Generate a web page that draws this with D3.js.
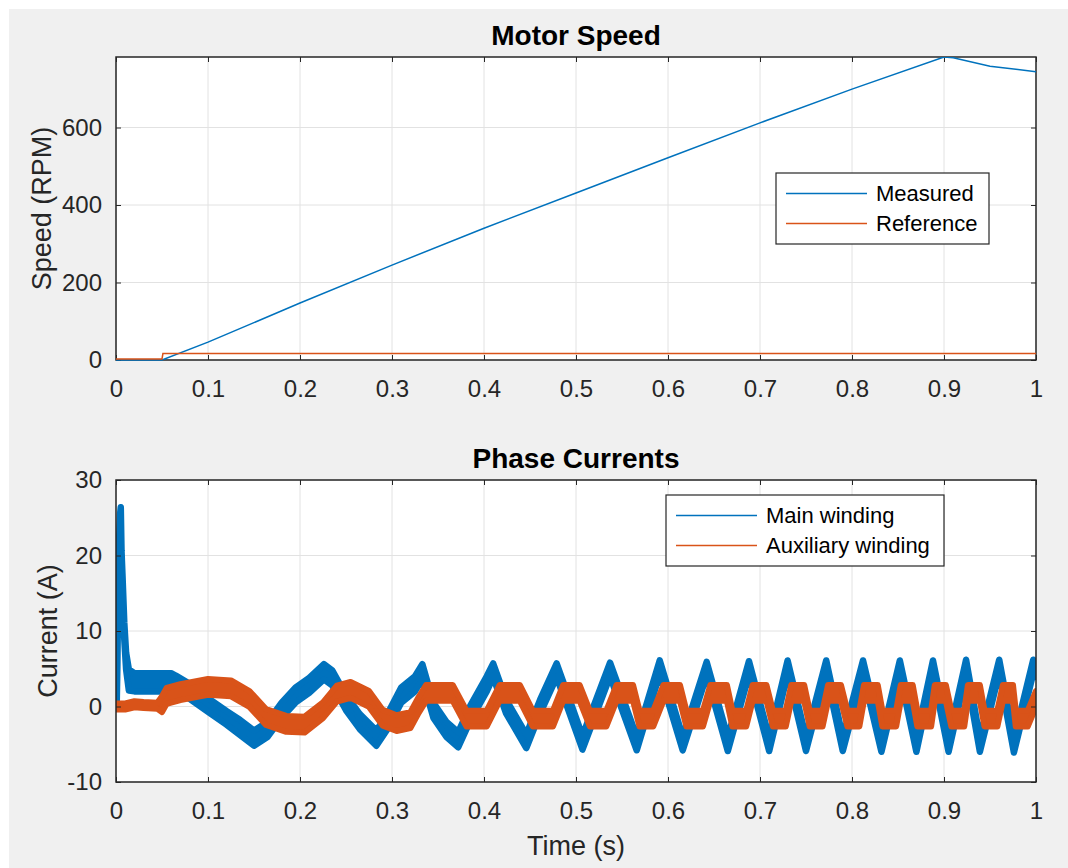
<!DOCTYPE html>
<head>
	<title>Motor Speed and Phase Currents</title>
	<meta charset="utf-8">
<style>

body {
  margin: 0;
  font-family: "Liberation Sans", Arial, Helvetica, sans-serif;
}

.axis path {
  display: none;
}

.axis line {
  stroke: #262626;
}

.axis text {
  fill: #262626;
  font-size: 24px;
}

.grid line {
  stroke: #e2e2e2;
  stroke-width: 1;
}

.title {
  font-size: 28px;
  font-weight: 700;
  fill: #000;
}

.label {
  font-size: 27px;
  fill: #262626;
}

.legend text {
  font-size: 22px;
  fill: #000;
}

</style>
</head>
<body>
<div id="vis"></div>

<script src="https://cdnjs.cloudflare.com/ajax/libs/d3/7.8.5/d3.min.js"></script>
<script>

// ---- data ----

// Motor speed (RPM)
var measuredT = [0, 0.05, 0.1, 0.2, 0.3, 0.4, 0.5, 0.6, 0.7, 0.8, 0.9, 0.91, 0.95, 1.0];
var measuredV = [0, 0, 46, 147, 245, 340, 431, 522, 612, 699, 782, 780, 758, 744];

var referenceT = [0, 0.05, 0.051, 1.0];
var referenceV = [0, 0, 14, 14];

// Main winding current (A): centre of the band and ripple half-height
var mainT = [0, 0.0008, 0.0015, 0.0025, 0.0035, 0.0045, 0.0052, 0.006, 0.007, 0.009, 0.011, 0.014, 0.02, 0.06,
  0.065, 0.08, 0.10, 0.12, 0.135, 0.15, 0.165, 0.18, 0.195, 0.21, 0.226, 0.235, 0.25, 0.265, 0.283,
  0.295, 0.31, 0.325, 0.333, 0.345, 0.359, 0.372, 0.385, 0.403, 0.410, 0.424, 0.446, 0.461, 0.479,
  0.493, 0.507, 0.537, 0.566, 0.591, 0.616, 0.642, 0.665, 0.688, 0.710, 0.730, 0.750, 0.772, 0.790,
  0.812, 0.832, 0.852, 0.870, 0.888, 0.905, 0.924, 0.939, 0.960, 0.976, 0.997, 1.0];
var mainI = [0, 3, 13, 19, 21, 24, 26, 19, 17, 10, 6, 3.5, 3.2, 3.2,
  3.0, 2.0, 0.2, -1.5, -2.8, -4.2, -3.0, -0.5, 1.5, 2.8, 4.6, 3.8, 0.5, -2.0, -4.2,
  -2.0, 1.5, 3.0, 4.6, -0.5, -3.0, -4.4, -0.9, 3.0, 4.8, 0.0, -4.6, 0.0, 4.8,
  0.0, -4.8, 4.9, -4.9, 5.2, -4.9, 5.0, -5.0, 5.1, -5.0, 5.2, -5.0, 5.2, -5.0,
  5.2, -5.1, 5.2, -5.1, 5.2, -5.1, 5.3, -5.1, 5.3, -5.2, 5.3, 4.8];
var mainR = [0, 2.6, 7.6, 2.6, 1.6, 1.6, 0.4, 1.6, 0.6, 1.1, 1.1, 1.4, 1.2, 1.2,
  1.1, 1.0, 0.9, 0.9, 1.0, 1.0, 1.0, 1.0, 1.0, 1.0, 1.0, 1.0, 1.0, 1.0, 1.0,
  1.0, 1.0, 1.0, 1.0, 1.0, 1.0, 1.0, 1.0, 1.0, 0.9, 0.9, 0.9, 0.9, 0.9,
  0.9, 0.9, 0.9, 0.9, 0.9, 0.9, 0.9, 0.9, 0.9, 0.9, 0.9, 0.9, 0.9, 0.9,
  0.9, 0.9, 0.9, 0.9, 0.9, 0.9, 0.9, 0.9, 0.9, 0.9, 0.9, 0.9];

// Auxiliary winding current (A)
var auxT = [0, 0.01, 0.02, 0.03, 0.045, 0.05, 0.055, 0.07, 0.10, 0.125, 0.145, 0.163, 0.185, 0.205,
  0.225, 0.24, 0.255, 0.275, 0.29, 0.305, 0.32, 0.329,
  0.337, 0.366, 0.381, 0.403, 0.417, 0.439, 0.453, 0.475, 0.486, 0.504, 0.515, 0.533,
  0.544, 0.562, 0.569, 0.584, 0.595, 0.613, 0.620, 0.638, 0.646, 0.664, 0.670, 0.685,
  0.692, 0.707, 0.714, 0.728, 0.734, 0.748, 0.754, 0.768, 0.774, 0.788, 0.795, 0.808,
  0.813, 0.828, 0.833, 0.848, 0.853, 0.866, 0.871, 0.886, 0.890, 0.902, 0.908, 0.922,
  0.926, 0.939, 0.944, 0.958, 0.964, 0.975, 0.978, 0.991, 1.0];
var auxI = [0, 0, 0.3, 0.2, 0.1, 0.3, 1.4, 1.9, 2.6, 2.4, 1.0, -1.4, -2.3, -2.4,
  -0.5, 1.7, 2.2, 1.0, -1.5, -2.2, -1.8, 0.2,
  1.8, 1.8, -1.6, -1.6, 1.8, 1.8, -1.6, -1.6, 1.8, 1.8, -1.6, -1.6,
  1.8, 1.8, -1.6, -1.6, 1.8, 1.8, -1.6, -1.6, 1.8, 1.8, -1.6, -1.6,
  1.8, 1.8, -1.6, -1.6, 1.8, 1.8, -1.6, -1.6, 1.8, 1.8, -1.6, -1.6,
  1.8, 1.8, -1.6, -1.6, 1.8, 1.8, -1.6, -1.6, 1.8, 1.8, -1.6, -1.6,
  1.8, 1.8, -1.6, -1.6, 1.8, 1.8, -1.6, -1.6, 1.0];
var auxR = auxT.map(function(t) { return t < 0.05 ? 0.4 : 1.05; });

var xTicks = [0, 0.1, 0.2, 0.3, 0.4, 0.5, 0.6, 0.7, 0.8, 0.9, 1];
var speedTicks = [0, 200, 400, 600];
var currentTicks = [-10, 0, 10, 20, 30];

var blue = "#0072BD",
    orange = "#D95319";

// ---- layout ----
var width = 1068, height = 868;

var svg = d3.select("#vis").append("svg")
    .attr("width", width)
    .attr("height", height);

svg.append("rect").attr("width", width).attr("height", height).attr("fill", "#fff");
svg.append("rect").attr("x", 9).attr("y", 9).attr("width", width - 9).attr("height", height - 9).attr("fill", "#f0f0f0");

function makePanel(opts) {
  var x = d3.scaleLinear().domain([0, 1]).range([opts.left, opts.right]);
  var y = d3.scaleLinear().domain(opts.yDomain).range([opts.bottom, opts.top]);

  var g = svg.append("g");

  g.append("rect")
      .attr("x", opts.left).attr("y", opts.top)
      .attr("width", opts.right - opts.left).attr("height", opts.bottom - opts.top)
      .attr("fill", "#fff");

  // grid
  var grid = g.append("g").attr("class", "grid");
  grid.selectAll(".gx").data(xTicks).enter().append("line")
      .attr("x1", function(d) { return x(d); }).attr("x2", function(d) { return x(d); })
      .attr("y1", opts.top).attr("y2", opts.bottom);
  grid.selectAll(".gy").data(opts.yTicks).enter().append("line")
      .attr("x1", opts.left).attr("x2", opts.right)
      .attr("y1", function(d) { return y(d); }).attr("y2", function(d) { return y(d); });

  var clipId = "clip" + opts.id;
  svg.append("clipPath").attr("id", clipId).append("rect")
      .attr("x", opts.left).attr("y", opts.top)
      .attr("width", opts.right - opts.left).attr("height", opts.bottom - opts.top + 1);

  var plot = g.append("g").attr("clip-path", "url(#" + clipId + ")");

  // axes (ticks point inward, MATLAB style); plain hyphen for negatives
  g.append("g").attr("class", "axis")
      .attr("transform", "translate(0," + opts.bottom + ")")
      .call(d3.axisBottom(x).tickValues(xTicks).tickSizeInner(-5).tickSizeOuter(0).tickPadding(20)
        .tickFormat(function(d) { return String(d); }));
  g.append("g").attr("class", "axis")
      .attr("transform", "translate(0," + opts.top + ")")
      .call(d3.axisTop(x).tickValues(xTicks).tickSizeInner(-5).tickSizeOuter(0).tickFormat(""));
  g.append("g").attr("class", "axis")
      .attr("transform", "translate(" + opts.left + ",0)")
      .call(d3.axisLeft(y).tickValues(opts.yTicks).tickSizeInner(-5).tickSizeOuter(0).tickPadding(14)
        .tickFormat(function(d) { return String(d); }));
  g.append("g").attr("class", "axis")
      .attr("transform", "translate(" + opts.right + ",0)")
      .call(d3.axisRight(y).tickValues(opts.yTicks).tickSizeInner(-5).tickSizeOuter(0).tickFormat(""));

  g.append("text")
      .attr("class", "title")
      .attr("x", (opts.left + opts.right) / 2)
      .attr("y", opts.top - 12)
      .attr("text-anchor", "middle")
      .text(opts.title);

  g.append("text")
      .attr("class", "label")
      .attr("transform", "translate(" + opts.yLabelX + "," + ((opts.top + opts.bottom) / 2) + ") rotate(-90)")
      .attr("text-anchor", "middle")
      .text(opts.yLabel);

  return { x: x, y: y, g: g, plot: plot, opts: opts };
}

function drawBox(p) {
  var o = p.opts;
  p.g.append("rect")
      .attr("x", o.left).attr("y", o.top)
      .attr("width", o.right - o.left).attr("height", o.bottom - o.top)
      .attr("fill", "none")
      .attr("stroke", "#262626")
      .attr("stroke-width", 1.5);
}

function drawLegend(p, box, items) {
  var lg = p.g.append("g").attr("class", "legend");
  lg.append("rect")
      .attr("x", box.x).attr("y", box.y)
      .attr("width", box.w).attr("height", box.h)
      .attr("fill", "#fff")
      .attr("stroke", "#262626")
      .attr("stroke-width", 1.2);
  items.forEach(function(it, i) {
    var cy = box.y + box.h / 2 + (i - (items.length - 1) / 2) * 30;
    lg.append("line")
        .attr("x1", box.x + 10).attr("x2", box.x + 91)
        .attr("y1", cy).attr("y2", cy)
        .attr("stroke", it.color).attr("stroke-width", 1.5);
    lg.append("text")
        .attr("x", box.x + 100).attr("y", cy).attr("dy", "0.35em")
        .text(it.name);
  });
}

// ---- Motor Speed ----
var speedPanel = makePanel({
  id: "speed", left: 116, right: 1036, top: 57, bottom: 360,
  yDomain: [0, 782], yTicks: speedTicks,
  title: "Motor Speed", yLabel: "Speed (RPM)", yLabelX: 51
});

var speedLine = d3.line()
    .x(function(d) { return speedPanel.x(d[0]); })
    .y(function(d) { return speedPanel.y(d[1]); });

drawBox(speedPanel);

speedPanel.plot.raise();

speedPanel.plot.append("path")
    .datum(d3.zip(measuredT, measuredV))
    .attr("d", speedLine)
    .attr("fill", "none").attr("stroke", blue).attr("stroke-width", 1.5);

speedPanel.plot.append("path")
    .datum(d3.zip(referenceT, referenceV))
    .attr("d", speedLine)
    .attr("transform", "translate(0,-1)")
    .attr("fill", "none").attr("stroke", orange).attr("stroke-width", 1.5);

drawLegend(speedPanel, { x: 776, y: 173, w: 213, h: 71 }, [
  { name: "Measured", color: blue },
  { name: "Reference", color: orange }
]);

// ---- Phase Currents ----
var currentPanel = makePanel({
  id: "current", left: 116, right: 1036, top: 480, bottom: 782,
  yDomain: [-10, 30], yTicks: currentTicks,
  title: "Phase Currents", yLabel: "Current (A)", yLabelX: 57
});

function band(p) {
  return d3.area()
      .x(function(d) { return p.x(d[0]); })
      .y0(function(d) { return p.y(d[1] - d[2]); })
      .y1(function(d) { return p.y(d[1] + d[2]); });
}

currentPanel.plot.append("path")
    .datum(d3.zip(mainT, mainI, mainR))
    .attr("d", band(currentPanel))
    .attr("fill", blue).attr("stroke", blue)
    .attr("stroke-width", 6.5).attr("stroke-linejoin", "round");

currentPanel.plot.append("path")
    .datum(d3.zip(auxT, auxI, auxR))
    .attr("d", band(currentPanel))
    .attr("fill", orange).attr("stroke", orange)
    .attr("stroke-width", 6).attr("stroke-linejoin", "round");

drawBox(currentPanel);
drawLegend(currentPanel, { x: 666, y: 495, w: 278, h: 71 }, [
  { name: "Main winding", color: blue },
  { name: "Auxiliary winding", color: orange }
]);

currentPanel.g.append("text")
    .attr("class", "label")
    .attr("x", (116 + 1036) / 2)
    .attr("y", 855)
    .attr("text-anchor", "middle")
    .text("Time (s)");

</script>
</body>
